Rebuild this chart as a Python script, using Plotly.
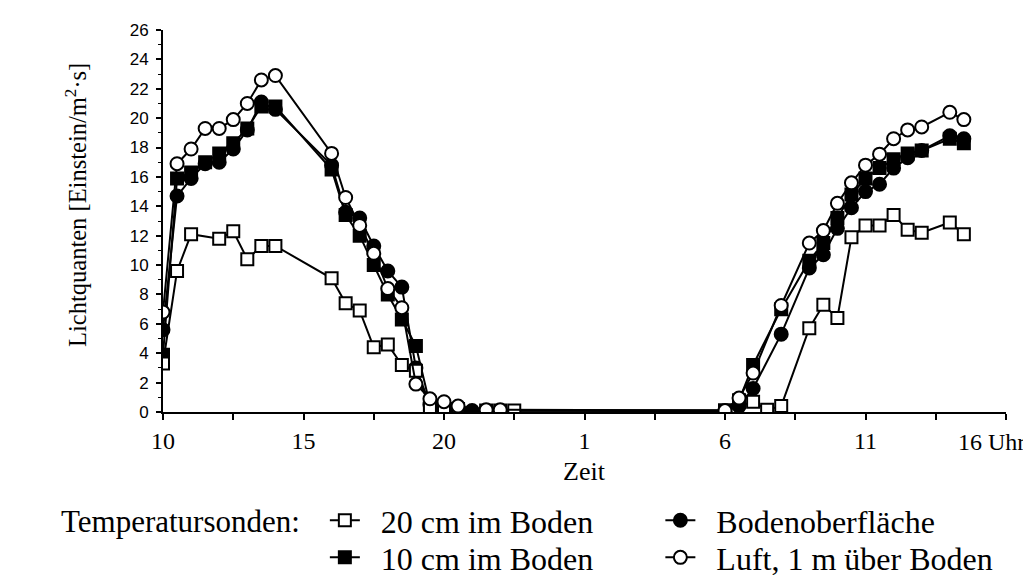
import plotly.graph_objects as go

# hours counted from 10 Uhr on day 1 (25 = 1 Uhr, 40 = 16 Uhr next day)
sq_open_h = [10.0, 10.5, 11.0, 12.0, 12.5, 13.0, 13.5, 14.0, 16.0, 16.5, 17.0, 17.5, 18.0,
             18.5, 19.0, 19.5, 20.0, 20.5, 21.5, 22.0, 22.5, 30.0, 31.0, 31.5, 32.0, 33.0,
             33.5, 34.0, 34.5, 35.0, 35.5, 36.0, 36.5, 37.0, 38.0, 38.5]
sq_open_v = [3.3, 9.6, 12.1, 11.8, 12.3, 10.4, 11.3, 11.3, 9.1, 7.4, 6.9, 4.4, 4.6,
             3.2, 2.8, 0.3, 0.2, 0.2, 0.1, 0.1, 0.1, 0.1, 0.7, 0.15, 0.4, 5.7,
             7.3, 6.4, 11.9, 12.7, 12.7, 13.4, 12.4, 12.2, 12.9, 12.1]

sq_fill_h = [10.0, 10.5, 11.0, 11.5, 12.0, 12.5, 13.0, 13.5, 14.0, 16.0, 16.5, 17.0, 17.5,
             18.0, 18.5, 19.0, 19.5, 20.0, 20.5, 30.0, 30.5, 31.0, 32.0, 33.0, 33.5, 34.0,
             34.5, 35.0, 35.5, 36.0, 36.5, 37.0, 38.0, 38.5]
sq_fill_v = [3.9, 15.9, 16.3, 17.0, 17.6, 18.3, 19.3, 20.8, 20.8, 16.5, 13.4, 12.0, 10.0,
             8.0, 6.3, 4.5, 0.5, 0.3, 0.1, 0.1, 0.8, 3.2, 7.0, 10.3, 11.5, 13.2,
             14.8, 15.9, 16.6, 17.2, 17.6, 17.8, 18.6, 18.3]

ci_fill_h = [10.0, 10.5, 11.0, 11.5, 12.0, 12.5, 13.0, 13.5, 14.0, 16.0, 16.5, 17.0, 17.5,
             18.0, 18.5, 19.0, 19.5, 20.0, 20.5, 21.0, 30.0, 30.5, 31.0, 32.0, 33.0, 33.5,
             34.0, 34.5, 35.0, 35.5, 36.0, 36.5, 37.0, 38.0, 38.5]
ci_fill_v = [5.6, 14.7, 15.9, 16.9, 17.0, 17.9, 19.2, 21.1, 20.6, 16.8, 13.6, 13.2, 11.3,
             9.6, 8.5, 3.0, 0.5, 0.3, 0.2, 0.1, 0.05, 0.4, 1.6, 5.3, 9.8, 10.7,
             12.5, 13.9, 15.0, 15.5, 16.6, 17.3, 17.8, 18.8, 18.6]

ci_open_h = [10.0, 10.5, 11.0, 11.5, 12.0, 12.5, 13.0, 13.5, 14.0, 16.0, 16.5, 17.0, 17.5,
             18.0, 18.5, 19.0, 19.5, 20.0, 20.5, 21.5, 22.0, 30.0, 30.5, 31.0, 32.0, 33.0,
             33.5, 34.0, 34.5, 35.0, 35.5, 36.0, 36.5, 37.0, 38.0, 38.5]
ci_open_v = [6.8, 16.9, 17.9, 19.3, 19.3, 19.9, 21.0, 22.6, 22.9, 17.6, 14.6, 12.7, 10.8,
             8.4, 7.1, 1.9, 0.9, 0.7, 0.4, 0.15, 0.15, 0.1, 0.95, 2.65, 7.25, 11.5,
             12.35, 14.2, 15.6, 16.8, 17.55, 18.6, 19.2, 19.4, 20.4, 19.9]

x_tickvals = [10, 15, 20, 25, 30, 35, 40]
x_ticktext = ["10", "15", "20", "1", "6", "11", ""]   # last one drawn as "16 Uhr" below
y_tickvals = list(range(0, 27, 2))

serif = "Liberation Serif, Times New Roman, serif"
sans = "Liberation Sans, Arial, sans-serif"

fig = go.Figure()

# draw order: filled first, open markers on top; each legend entry gets its own box
# (name, x, y, symbol, fill, size, legend)
series = [
    ("10 cm im Boden", sq_fill_h, sq_fill_v, "square", "black", 12, "legend3"),
    ("Bodenoberfläche", ci_fill_h, ci_fill_v, "circle", "black", 13, "legend2"),
    ("20 cm im Boden", sq_open_h, sq_open_v, "square", "white", 12, "legend"),
    ("Luft, 1 m über Boden", ci_open_h, ci_open_v, "circle", "white", 13, "legend4"),
]
for name, xs, ys, sym, fill, size, leg in series:
    fig.add_trace(go.Scatter(
        x=xs, y=ys, mode="lines+markers", name="  " + name,
        legend=leg, showlegend=True,
        line=dict(color="black", width=2),
        marker=dict(symbol=sym, size=size, color=fill,
                    line=dict(color="black", width=2)),
    ))

fig.update_xaxes(
    range=[10, 40], tickvals=x_tickvals, ticktext=x_ticktext,
    showline=True, linecolor="black", linewidth=2, mirror=False,
    ticks="outside", ticklen=6, tickwidth=2, tickcolor="black",
    minor=dict(dtick=2.5, tick0=10, ticks="outside", ticklen=6, tickwidth=2, tickcolor="black"),
    showgrid=False, zeroline=False, ticklabelstandoff=0,
    tickfont=dict(family=serif, size=24, color="black"),
)
fig.update_yaxes(
    range=[0, 26], tickvals=y_tickvals,
    showline=True, linecolor="black", linewidth=2,
    ticks="outside", ticklen=5, tickwidth=2, tickcolor="black",
    minor=dict(dtick=1, ticks="outside", ticklen=3, tickwidth=1, tickcolor="black"),
    showgrid=False, zeroline=False, ticklabelstandoff=4,
    tickfont=dict(family=sans, size=17, color="black"),
)

fig.add_annotation(x=1.025, y=-0.079, xref="paper", yref="paper", text="16 Uhr",
                   showarrow=False, xanchor="right", yanchor="middle",
                   font=dict(family=serif, size=24, color="black"))
fig.add_annotation(x=0.5, y=-0.155, xref="paper", yref="paper", text="Zeit", showarrow=False,
                   xanchor="center", yanchor="middle",
                   font=dict(family=serif, size=26, color="black"))
fig.add_annotation(x=-0.104, y=0.543, xref="paper", yref="paper",
                   text="Lichtquanten [Einstein/m<sup>2</sup>·s]", textangle=-90,
                   showarrow=False, xanchor="center", yanchor="middle",
                   font=dict(family=serif, size=24.5, color="black"))
fig.add_annotation(x=-0.123, y=-0.287, xref="paper", yref="paper", text="Temperatursonden:",
                   showarrow=False, xanchor="left", yanchor="middle",
                   font=dict(family=serif, size=31, color="black"))

leg_style = dict(orientation="v", yanchor="top", xanchor="left",
                 bgcolor="rgba(0,0,0,0)",
                 font=dict(family=serif, size=32, color="black"))

fig.update_layout(
    width=1031, height=575,
    margin=dict(l=155, r=33, t=22, b=171, autoexpand=False),
    plot_bgcolor="white", paper_bgcolor="white",
    showlegend=True,
    legend=dict(x=0.192, y=-0.212, **leg_style),
    legend2=dict(x=0.59, y=-0.212, **leg_style),
    legend3=dict(x=0.192, y=-0.309, **leg_style),
    legend4=dict(x=0.59, y=-0.309, **leg_style),
)

fig.write_html("out.html")
